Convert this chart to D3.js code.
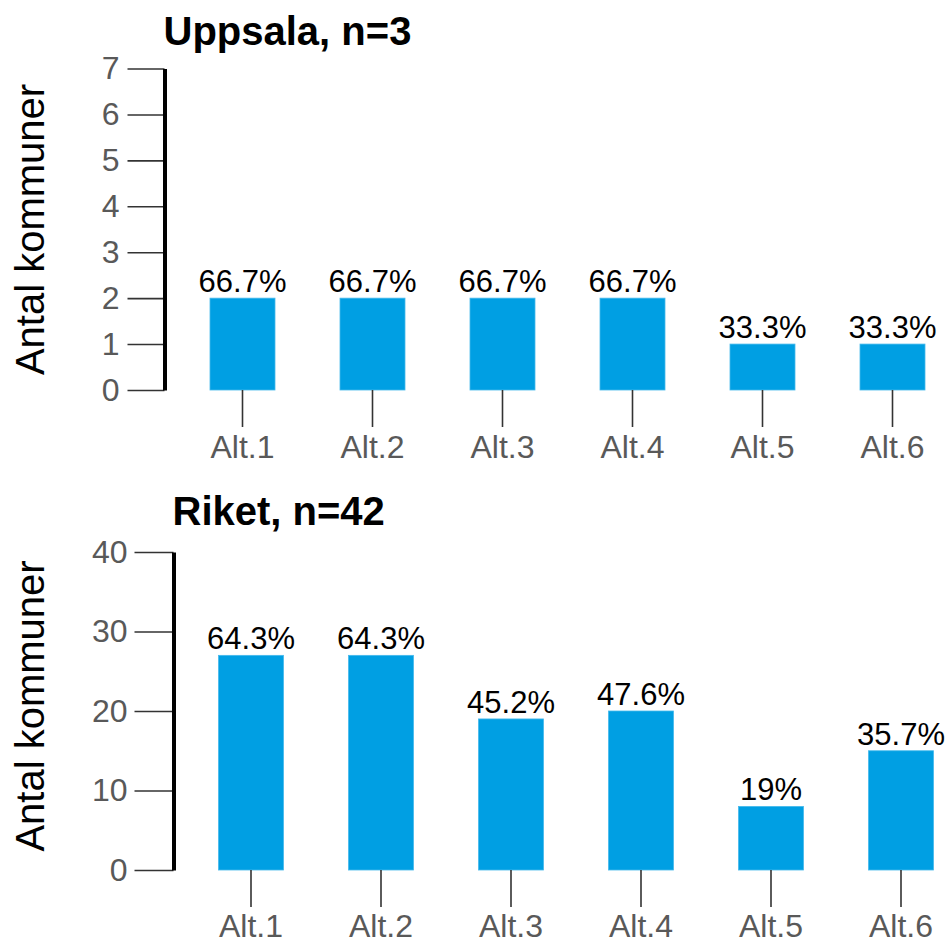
<!DOCTYPE html>
<html>
<head>
<meta charset="utf-8">
<script src="https://cdn.jsdelivr.net/npm/d3@7"></script>
<style>
  html, body { margin: 0; padding: 0; background: #ffffff; }
  svg { display: block; font-family: "Liberation Sans", Arial, Helvetica, sans-serif; }
</style>
</head>
<body>
<svg id="chart" width="947" height="943"></svg>
<script>
// ---- Data ----
const categories = ["Alt.1", "Alt.2", "Alt.3", "Alt.4", "Alt.5", "Alt.6"];

const uppsalaTitle = "Uppsala, n=3";
const uppsalaValues = [2, 2, 2, 2, 1, 1];
const uppsalaLabels = ["66.7%", "66.7%", "66.7%", "66.7%", "33.3%", "33.3%"];
const uppsalaTicks = [0, 1, 2, 3, 4, 5, 6, 7];
const uppsalaMax = 7;

const riketTitle = "Riket, n=42";
const riketValues = [27, 27, 19, 20, 8, 15];
const riketLabels = ["64.3%", "64.3%", "45.2%", "47.6%", "19%", "35.7%"];
const riketTicks = [0, 10, 20, 30, 40];
const riketMax = 40;

const yTitle = "Antal kommuner";

// ---- Layout (styling kept separate from data) ----
const panels = [
  {
    title: uppsalaTitle, values: uppsalaValues, labels: uppsalaLabels,
    ticks: uppsalaTicks, max: uppsalaMax,
    axisX: 164.5, yBottom: 390, yTop: 68.5, firstCenter: 242.5,
    titleY: 45, yTitleY: 229.5, yTickSize: 37, yTickPad: 8,
    xTickSize: 37, xTickPad: 8
  },
  {
    title: riketTitle, values: riketValues, labels: riketLabels,
    ticks: riketTicks, max: riketMax,
    axisX: 173.5, yBottom: 870, yTop: 552, firstCenter: 251,
    titleY: 525, yTitleY: 706, yTickSize: 39, yTickPad: 7,
    xTickSize: 37, xTickPad: 7
  }
];

const barColor = "#009FE3";
const svg = d3.select("#chart");

panels.forEach(p => {
  const g = svg.append("g");

  const step = 130;
  const r0 = p.firstCenter - step / 2;
  const x = d3.scaleBand()
    .domain(categories)
    .range([r0, r0 + step * categories.length])
    .paddingInner(0.5)
    .paddingOuter(0.25);

  const y = d3.scaleLinear()
    .domain([0, p.max])
    .range([p.yBottom, p.yTop]);

  // Title
  g.append("text")
    .attr("x", p.axisX - 1)
    .attr("y", p.titleY)
    .attr("font-size", 40)
    .attr("font-weight", "bold")
    .attr("fill", "#000")
    .text(p.title);

  // Y axis title
  g.append("text")
    .attr("transform", `translate(44,${p.yTitleY}) rotate(-90)`)
    .attr("text-anchor", "middle")
    .attr("font-size", 40)
    .attr("fill", "#000")
    .text(yTitle);

  // Bars
  const data = categories.map((c, i) => ({ c, v: p.values[i], l: p.labels[i] }));
  g.selectAll("rect.bar")
    .data(data)
    .join("rect")
    .attr("class", "bar")
    .attr("x", d => x(d.c))
    .attr("y", d => y(d.v))
    .attr("width", x.bandwidth())
    .attr("height", d => y(0) - y(d.v))
    .attr("fill", barColor)
    .attr("stroke", "#45b9ec")
    .attr("stroke-width", 0.8);

  // Bar labels
  g.selectAll("text.lbl")
    .data(data)
    .join("text")
    .attr("class", "lbl")
    .attr("x", d => x(d.c) + x.bandwidth() / 2)
    .attr("y", d => y(d.v) - 6)
    .attr("text-anchor", "middle")
    .attr("font-size", 31)
    .attr("fill", "#000")
    .text(d => d.l);

  // Y axis
  const yAxis = d3.axisLeft(y)
    .tickValues(p.ticks)
    .tickFormat(d3.format("d"))
    .tickSize(p.yTickSize)
    .tickSizeOuter(0)
    .tickPadding(p.yTickPad);
  const ya = g.append("g")
    .attr("transform", `translate(${p.axisX},0)`)
    .call(yAxis);
  ya.select(".domain").attr("stroke", "#000").attr("stroke-width", 4);
  ya.selectAll(".tick line").attr("stroke", "#333").attr("stroke-width", 1.6);
  ya.selectAll(".tick text")
    .attr("font-size", 32)
    .attr("font-family", "'Liberation Sans', Arial, sans-serif")
    .attr("fill", "#595959");
  ya.select(".domain").raise();

  // X axis
  const xAxis = d3.axisBottom(x)
    .tickSize(p.xTickSize)
    .tickSizeOuter(0)
    .tickPadding(p.xTickPad);
  const xa = g.append("g")
    .attr("transform", `translate(0,${p.yBottom})`)
    .call(xAxis);
  xa.select(".domain").remove();
  xa.selectAll(".tick line").attr("stroke", "#333").attr("stroke-width", 1.6);
  xa.selectAll(".tick text")
    .attr("font-size", 32)
    .attr("font-family", "'Liberation Sans', Arial, sans-serif")
    .attr("fill", "#595959");
});
</script>
</body>
</html>
